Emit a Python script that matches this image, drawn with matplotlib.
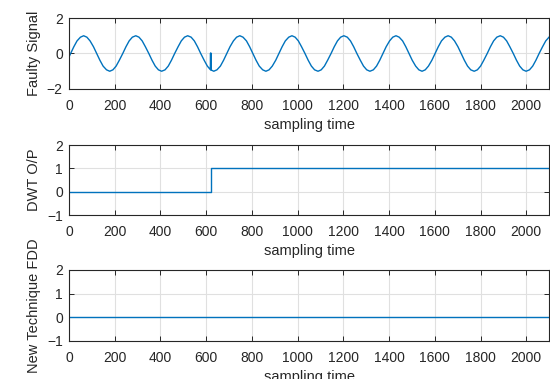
import matplotlib
matplotlib.use("Agg")
import matplotlib.pyplot as plt

plt.rcParams['font.family'] = ['Liberation Sans', 'DejaVu Sans']

# Faulty signal: vertices
sig_x = [0,
         7, 21, 35, 50, 64, 78, 92, 107, 121, 135, 149, 164, 178, 192, 206, 220,
         235, 249, 263, 277, 292, 306, 320, 334, 349, 363, 377, 391, 405, 420, 434, 448,
         462, 477, 491, 505, 519, 534, 548, 562, 576, 591, 605, 618, 619, 620, 621, 622, 633, 647, 662, 676,
         690, 704, 719, 733, 747, 761, 776, 790, 804, 818, 832, 847, 861, 875, 889, 904,
         918, 932, 946, 961, 975, 989, 1003, 1017, 1032, 1046, 1060, 1074, 1089, 1103, 1117, 1131,
         1146, 1160, 1174, 1188, 1202, 1217, 1231, 1245, 1259, 1274, 1288, 1302, 1316, 1331, 1345, 1359,
         1373, 1387, 1402, 1416, 1430, 1444, 1459, 1473, 1487, 1501, 1516, 1530, 1544, 1558, 1572, 1587,
         1601, 1615, 1629, 1644, 1658, 1672, 1686, 1701, 1715, 1729, 1743, 1757, 1772, 1786, 1800, 1814,
         1829, 1843, 1857, 1871, 1886, 1900, 1914, 1928, 1943, 1957, 1971, 1985, 1999, 2014, 2028, 2042,
         2056, 2071, 2085, 2100]
sig_y = [-0.19,
         0, 0.38, 0.71, 0.92, 1, 0.92, 0.71, 0.38, 0, -0.38, -0.71, -0.92, -1, -0.92, -0.71, -0.38,
         0, 0.38, 0.71, 0.92, 1, 0.92, 0.71, 0.38, 0, -0.38, -0.71, -0.92, -1, -0.92, -0.71, -0.38,
         0, 0.38, 0.71, 0.92, 1, 0.92, 0.71, 0.38, 0, -0.38, -0.71, -0.91, 0.02, -0.92, 0.02, -0.93, -1, -0.92, -0.71, -0.38,
         0, 0.38, 0.71, 0.92, 1, 0.92, 0.71, 0.38, 0, -0.38, -0.71, -0.92, -1, -0.92, -0.71, -0.38,
         0, 0.38, 0.71, 0.92, 1, 0.92, 0.71, 0.38, 0, -0.38, -0.71, -0.92, -1, -0.92, -0.71, -0.38,
         0, 0.38, 0.71, 0.92, 1, 0.92, 0.71, 0.38, 0, -0.38, -0.71, -0.92, -1, -0.92, -0.71, -0.38,
         0, 0.38, 0.71, 0.92, 1, 0.92, 0.71, 0.38, 0, -0.38, -0.71, -0.92, -1, -0.92, -0.71, -0.38,
         0, 0.38, 0.71, 0.92, 1, 0.92, 0.71, 0.38, 0, -0.38, -0.71, -0.92, -1, -0.92, -0.71, -0.38,
         0, 0.38, 0.71, 0.92, 1, 0.92, 0.71, 0.38, 0, -0.38, -0.71, -0.92, -1, -0.92, -0.71, -0.38,
         0, 0.38, 0.71, 0.93]

# DWT output (step at fault instant)
dwt_x = [0, 620, 620, 2100]
dwt_y = [0, 0, 1, 1]

# New technique FDD output
fdd_x = [0, 2100]
fdd_y = [0, 0]

xticks = [0, 200, 400, 600, 800, 1000, 1200, 1400, 1600, 1800, 2000]
yticks_top = [-2, 0, 2]
yticks_other = [-1, 0, 1, 2]

line_color = '#0072BD'
dark = '#262626'

fig = plt.figure(figsize=(5.5, 3.79), dpi=100)
positions = [
    [0.1255, 0.7652, 0.873, 0.1873],
    [0.1255, 0.4327, 0.873, 0.1847],
    [0.1255, 0.1003, 0.873, 0.1873],
]
series = [(sig_x, sig_y), (dwt_x, dwt_y), (fdd_x, fdd_y)]
ylabels = ['Faulty Signal', 'DWT O/P', 'New Technique FDD']
ylims = [(-2, 2), (-1, 2), (-1, 2)]
yticks = [yticks_top, yticks_other, yticks_other]

for pos, (xs, ys), yl, ylim, yt in zip(positions, series, ylabels, ylims, yticks):
    ax = fig.add_axes(pos)
    ax.plot(xs, ys, color=line_color, lw=1.0)
    ax.set_xlim(0, 2100)
    ax.set_ylim(*ylim)
    ax.set_xticks(xticks)
    ax.set_yticks(yt)
    ax.grid(True, color='#e0e0e0', lw=0.8)
    ax.set_axisbelow(True)
    ax.tick_params(direction='in', top=True, right=True, length=3.5, width=0.7,
                   colors=dark, labelsize=10)
    ax.tick_params(axis='x', pad=7)
    ax.tick_params(axis='y', pad=4.5)
    for s in ax.spines.values():
        s.set_color(dark)
        s.set_linewidth(0.8)
    ax.set_xlabel('sampling time', fontsize=10.5, color=dark, labelpad=4)
    ax.set_ylabel(yl, fontsize=10.5, color=dark, labelpad=4)

fig.savefig('out.png', dpi=100)
